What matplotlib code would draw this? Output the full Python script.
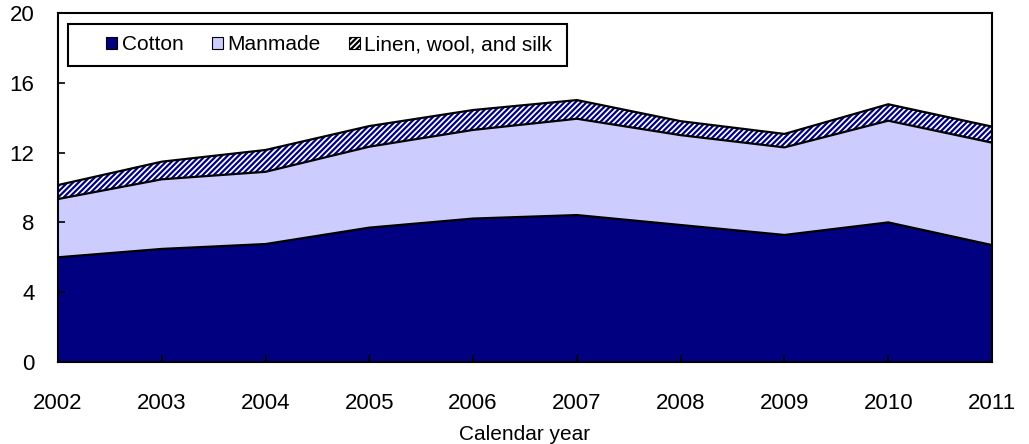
import numpy as np
import matplotlib
matplotlib.use('Agg')
import matplotlib.pyplot as plt
from matplotlib.patches import Rectangle

plt.rcParams['font.family'] = ['Liberation Sans', 'DejaVu Sans']
plt.rcParams['hatch.linewidth'] = 1.6
plt.rcParams['hatch.color'] = '#000080'

# values
years = [2002, 2003, 2004, 2005, 2006, 2007, 2008, 2009, 2010, 2011]
cotton = [6.0, 6.48, 6.76, 7.7, 8.22, 8.42, 7.85, 7.28, 8.0, 6.7]
manmade = [3.34, 3.99, 4.14, 4.64, 5.08, 5.52, 5.15, 5.02, 5.83, 5.87]
linen_wool_silk = [0.8, 1.01, 1.25, 1.18, 1.14, 1.07, 0.8, 0.77, 0.94, 0.92]

x = np.array(years)
c1 = np.array(cotton)
c2 = c1 + np.array(manmade)
c3 = c2 + np.array(linen_wool_silk)

fig = plt.figure(figsize=(10.29, 4.44), dpi=100)
ax = fig.add_axes([58 / 1029, 1 - 362 / 444, 934 / 1029, 349 / 444])

navy = '#000080'
lav = '#CCCCFF'

ax.fill_between(x, 0, c1, facecolor=navy, edgecolor='none', label='Cotton')
ax.fill_between(x, c1, c2, facecolor=lav, edgecolor='none', label='Manmade')
ax.fill_between(x, c2, c3, facecolor='white', edgecolor=navy, hatch='//////',
                linewidth=0, label='Linen, wool, and silk')

for top in (c1, c2, c3):
    ax.plot(x, top, color='black', linewidth=1.6, solid_joinstyle='miter')

ax.set_xlim(2002, 2011)
ax.set_ylim(0, 20)
ax.set_xticks(years)
ax.set_yticks(np.arange(0, 21, 4))
ax.tick_params(axis='both', direction='in', length=5, width=1.2, labelsize=16)
ax.tick_params(axis='y', pad=17)
ax.tick_params(axis='x', pad=22)
for s in ax.spines.values():
    s.set_linewidth(1.5)

ax.set_xlabel('Calendar year', fontsize=15, labelpad=8)

# legend frame drawn separately, entries placed inside it
ax.add_patch(Rectangle((10 / 934, 1 - 53 / 349), 499 / 934, 42 / 349,
                       transform=ax.transAxes, facecolor='white',
                       edgecolor='black', linewidth=1.5, zorder=4))
leg = ax.legend(loc='center left', ncol=3, frameon=False,
                bbox_to_anchor=(48 / 934, 1 - 32 / 349),
                borderaxespad=0, borderpad=0, fontsize=15,
                handlelength=0.55, handleheight=0.55,
                handletextpad=0.2, columnspacing=1.35)
leg.set_zorder(5)
for h in leg.legend_handles:
    h.set_edgecolor('black')
    h.set_linewidth(0.8)

fig.savefig('out.png', dpi=100)
